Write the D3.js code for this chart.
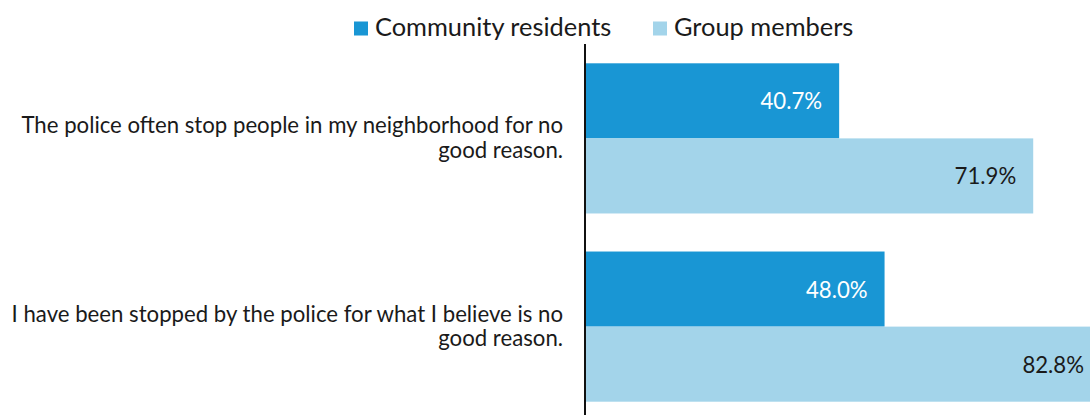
<!DOCTYPE html>
<html>
<head>
<meta charset="utf-8">
<script src="https://cdn.jsdelivr.net/npm/d3@7"></script>
<style>
body { margin: 0; background: #fff; }
text { font-family: Lato, "Open Sans", sans-serif; }
</style>
</head>
<body>
<div id="main_div"></div>
<script>
var categories = [
    ["The police often stop people in my neighborhood for no", "good reason."],
    ["I have been stopped by the police for what I believe is no", "good reason."]
];
var series = ["Community residents", "Group members"];
var community = [40.7, 48.0];
var group = [71.9, 82.8];
var colors = ["#1996d4", "#a3d4ea"];
var label_colors = ["#ffffff", "#1a1a1a"];

var rows = [];
categories.forEach(function(c, i) {
    rows.push({cat: i, s: 0, v: community[i]});
    rows.push({cat: i, s: 1, v: group[i]});
});

var width = 1090, height = 415;
var svg = d3.select("#main_div").append("svg").attr("width", width).attr("height", height);

var x_scale = d3.scaleLinear().domain([0, 100]).range([586, 586 + 622]);
var y_scale = d3.scaleBand().domain([0, 1]).range([63.3, 401.7]).paddingInner(38 / 188);
var y_inner = d3.scaleBand().domain([0, 1]).range([0, y_scale.bandwidth()]);

var bars = svg.append("g").selectAll("rect").data(rows).enter().append("rect");
bars.attr("x", x_scale(0))
    .attr("y", function(d) { return y_scale(d.cat) + y_inner(d.s); })
    .attr("width", function(d) { return x_scale(d.v) - x_scale(0); })
    .attr("height", y_inner.bandwidth())
    .attr("fill", function(d) { return colors[d.s]; });

var vals = svg.append("g").selectAll("text").data(rows).enter().append("text");
vals.attr("x", function(d) { return x_scale(d.v) - 17; })
    .attr("y", function(d) { return y_scale(d.cat) + y_inner(d.s) + y_inner.bandwidth() / 2 + 8.5; })
    .attr("text-anchor", "end")
    .attr("font-size", 22.2)
    .attr("fill", function(d) { return label_colors[d.s]; })
    .text(function(d) { return d.v.toFixed(1) + "%"; });

// axis line
svg.append("line").attr("x1", 585).attr("x2", 585).attr("y1", 44).attr("y2", height)
    .attr("stroke", "#111").attr("stroke-width", 2);

// category labels
var cl = svg.append("g").selectAll("text").data(categories).enter().append("text")
    .attr("text-anchor", "end").attr("font-size", 22.2).attr("fill", "#1a1a1a");
cl.each(function(d, i) {
    var mid = y_scale(i) + y_scale.bandwidth() / 2;
    d3.select(this).selectAll("tspan").data(d).enter().append("tspan")
        .attr("x", 563)
        .attr("y", function(t, j) { return mid - 5 + j * 24.5; })
        .text(function(t) { return t; });
});

// legend
var leg_x = [354, 653];
var lg = svg.append("g").selectAll("g").data(series).enter().append("g")
    .attr("transform", function(d, i) { return "translate(" + leg_x[i] + ",0)"; });
lg.append("rect").attr("x", 0).attr("y", 21.5).attr("width", 14).attr("height", 14)
    .attr("fill", function(d, i) { return colors[i]; });
lg.append("text").attr("x", 21).attr("y", 36).attr("font-size", 25.4).attr("fill", "#1a1a1a")
    .text(function(d) { return d; });
</script>
</body>
</html>
